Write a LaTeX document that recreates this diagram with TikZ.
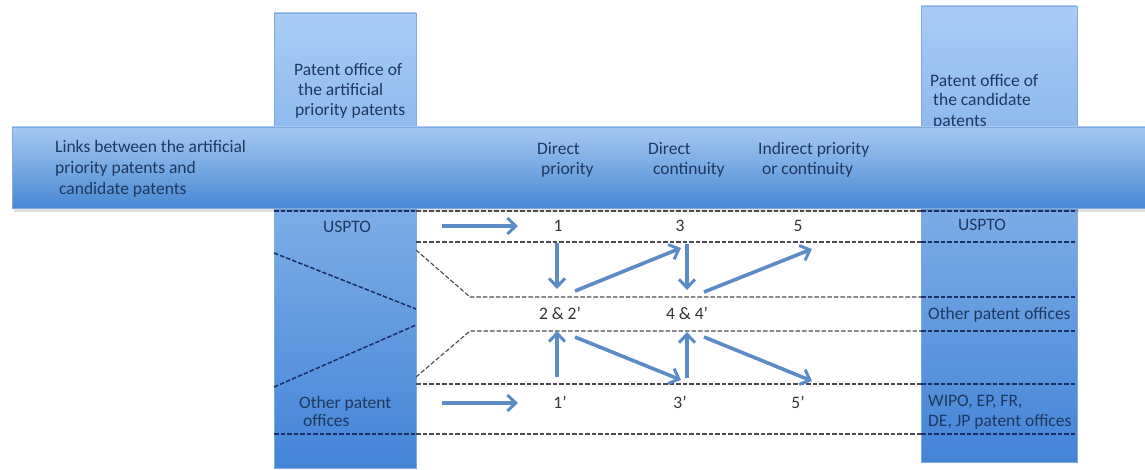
\documentclass[tikz,border=0pt]{standalone}
\usepackage{fontspec}
\setmainfont{Carlito}
\usetikzlibrary{arrows.meta}
\definecolor{colTop}{HTML}{AACCF6}
\definecolor{colBot}{HTML}{4384D6}
\definecolor{bandTop}{HTML}{A6C8F1}
\definecolor{bandBot}{HTML}{4888D4}
\definecolor{navy}{HTML}{1E3862}
\definecolor{arrowc}{HTML}{5C8CC6}
\definecolor{dashc}{HTML}{4A4A50}
\definecolor{dashin}{HTML}{1A2F66}
\definecolor{edgec}{HTML}{7FAAE0}
\begin{document}
\begin{tikzpicture}[x=1pt,y=-1pt,
  font=\fontsize{17.5}{20.5}\selectfont,
  txt/.style={text=navy, align=left, inner sep=0pt, anchor=base west},
  num/.style={text=black!80, inner sep=0pt, anchor=base},
  link/.style={draw=arrowc, line width=3.6pt,
    -{Straight Barb[length=8.5pt,width=16pt,line width=3pt]}},
  sep/.style={draw=dashc, dash pattern=on 4.5pt off 2pt, line width=1.5pt},
  sepin/.style={draw=dashin, dash pattern=on 4.5pt off 2pt, line width=1.5pt},
  column/.style={top color=colTop, bottom color=colBot, draw=edgec, line width=0.8pt},
  band/.style={top color=bandTop, bottom color=bandBot, draw=edgec, line width=0.8pt}]
\useasboundingbox (0,0) rectangle (1145,470);

% columns
\path[column] (274,13) rectangle (416,468);
\path[column] (921,6) rectangle (1077,462);

% column headings
\node[txt] (hl1) at (294,76) {Patent office of};
\node[txt] (hl2) at (298,96) {the artificial};
\node[txt] (hl3) at (295,116) {priority patents};
\node[txt] (hr1) at (930,87) {Patent office of};
\node[txt] (hr2) at (933,106) {the candidate};
\node[txt] (hr3) at (933,127) {patents};

% band with soft shadow
\fill[black, opacity=0.12] (14,131) rectangle (1145,212);
\path[band] (12,127) rectangle (1146,208);

\node[txt] (b1) at (55,153) {Links between the artificial};
\node[txt] (b2) at (55,174) {priority patents and};
\node[txt] (b3) at (59,195) {candidate patents};
\node[txt] (dp1) at (537,155) {Direct};
\node[txt] (dp2) at (541,175) {priority};
\node[txt] (dc1) at (648,155) {Direct};
\node[txt] (dc2) at (653,175) {continuity};
\node[txt] (ip1) at (758,155) {Indirect priority};
\node[txt] (ip2) at (762,175) {or continuity};

% dashed separators (grey in the open area, navy inside the columns)
\draw[sepin] (274,211) -- (416,211);
\draw[sep] (416,211) -- (921,211);
\draw[sepin] (921,211) -- (1077,211);
\draw[sep] (416,242) -- (921,242);
\draw[sepin] (921,242) -- (1077,242);
\draw[sep, line width=1.1pt] (416,250) -- (470,297) -- (921,297);
\draw[sepin] (921,297) -- (1077,297);
\draw[sep, line width=1.1pt] (416,377) -- (470,331) -- (921,331);
\draw[sepin] (921,331) -- (1077,331);
\draw[sep] (416,384) -- (921,384);
\draw[sepin] (921,384) -- (1077,384);
\draw[sepin] (274,434) -- (416,434);
\draw[sep] (416,434) -- (921,434);
\draw[sepin] (921,434) -- (1077,434);
\draw[sepin] (274,253) -- (416,309);
\draw[sepin] (274,387) -- (416,325);

% office labels
\node[txt, anchor=base] (lu) at (347,233) {USPTO};
\node[txt] (lo1) at (299,408) {Other patent};
\node[txt] (lo2) at (303,426) {offices};
\node[txt, anchor=base] (ru) at (982,231) {USPTO};
\node[txt] (ro) at (928,319) {Other patent offices};
\node[txt] (rw1) at (928,406) {WIPO, EP, FR,};
\node[txt] (rw2) at (928,426) {DE, JP patent offices};

% numbers
\node[num] (n1) at (558,232) {1};
\node[num] (n3) at (680,232) {3};
\node[num] (n5) at (798,232) {5};
\node[num] (n2) at (560,319) {2 \& 2’};
\node[num] (n4) at (687,319) {4 \& 4’};
\node[num] (n1p) at (560,408) {1’};
\node[num] (n3p) at (680,408) {3’};
\node[num] (n5p) at (798,408) {5’};

% arrow end points
\coordinate (a1s) at (442,226);   \coordinate (a1e) at (518,226);
\coordinate (a1ps) at (442,403);  \coordinate (a1pe) at (518,403);
\coordinate (d1s) at (557,243);   \coordinate (d1e) at (557,289);
\coordinate (g1s) at (575,291);   \coordinate (g1e) at (681,248);
\coordinate (d3s) at (687,244);   \coordinate (d3e) at (687,290);
\coordinate (g3s) at (704,292);   \coordinate (g3e) at (812,249);
\coordinate (u1s) at (557,377);   \coordinate (u1e) at (557,331);
\coordinate (h1s) at (575,337);   \coordinate (h1e) at (681,380);
\coordinate (u3s) at (687,378);   \coordinate (u3e) at (687,332);
\coordinate (h3s) at (704,337);   \coordinate (h3e) at (812,381);

\draw[link] (a1s) -- (a1e);
\draw[link] (a1ps) -- (a1pe);
\draw[link] (d1s) -- (d1e);
\draw[link] (g1s) -- (g1e);
\draw[link] (d3s) -- (d3e);
\draw[link] (g3s) -- (g3e);
\draw[link] (u1s) -- (u1e);
\draw[link] (h1s) -- (h1e);
\draw[link] (u3s) -- (u3e);
\draw[link] (h3s) -- (h3e);
\end{tikzpicture}
\end{document}
